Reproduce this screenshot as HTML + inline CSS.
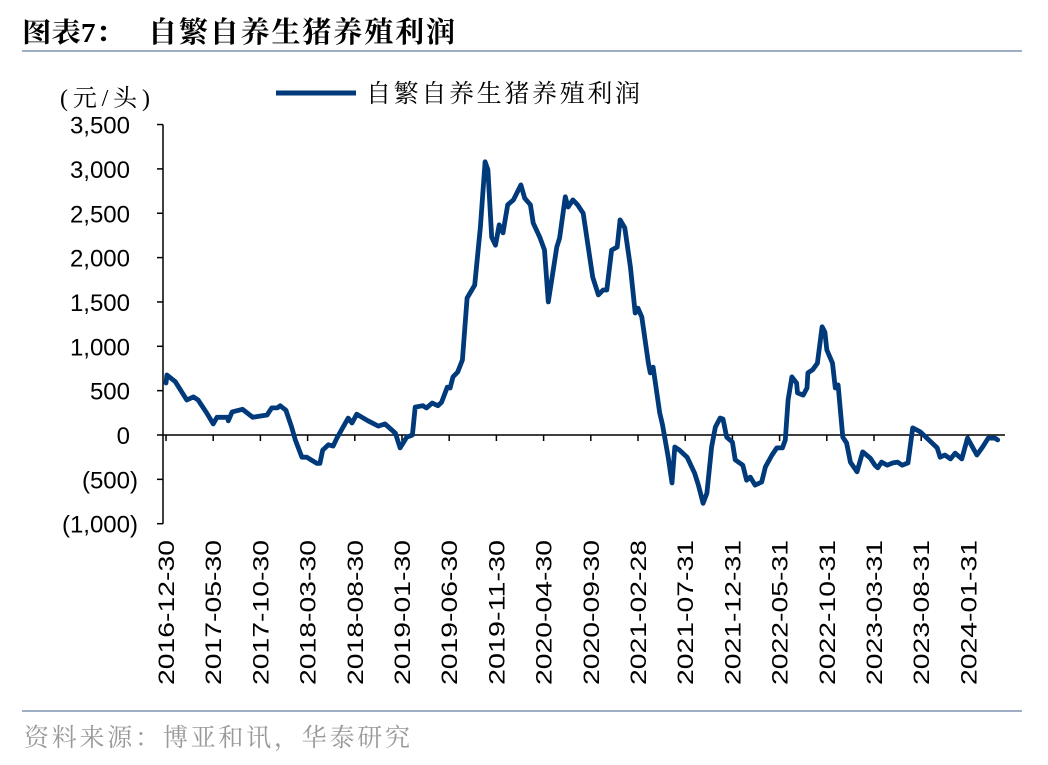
<!DOCTYPE html>
<html><head><meta charset="utf-8"><style>
body{margin:0;background:#fff;}
svg text{font-family:"Liberation Sans","Noto Sans CJK SC",sans-serif;}
svg text.cjk{font-family:"Liberation Serif","Noto Serif CJK SC",serif;}
</style></head><body>
<svg id="chart" width="1048" height="760" xmlns="http://www.w3.org/2000/svg">
<text class="cjk" x="22" y="42" font-size="27" font-weight="bold" fill="#000" textLength="103" lengthAdjust="spacingAndGlyphs">图表7：</text>
<text class="cjk" x="148" y="42" font-size="29" font-weight="bold" fill="#000" textLength="307" lengthAdjust="spacing">自繁自养生猪养殖利润</text>
<line x1="22" y1="51" x2="1022" y2="51" stroke="#7f93b3" stroke-width="1.5"/>
<text class="cjk" x="60" y="106" font-size="24" fill="#000" textLength="90" lengthAdjust="spacing">(元/头)</text>
<line x1="276" y1="93" x2="356" y2="93" stroke="#003a7a" stroke-width="5"/>
<text class="cjk" x="366" y="102" font-size="25" fill="#000" textLength="274" lengthAdjust="spacing">自繁自养生猪养殖利润</text>
<g id="axes"></g>
<g id="series"></g>
<line x1="22" y1="711" x2="1022" y2="711" stroke="#7f93b3" stroke-width="1.5"/>
<text class="cjk" x="24" y="746" font-size="25" fill="#999" textLength="386" lengthAdjust="spacing">资料来源：博亚和讯，华泰研究</text>
</svg>
<script>
const yTicks=[3500,3000,2500,2000,1500,1000,500,0,-500,-1000];
const xLabels=["2016-12-30","2017-05-30","2017-10-30","2018-03-30","2018-08-30","2019-01-30","2019-06-30","2019-11-30","2020-04-30","2020-09-30","2021-02-28","2021-07-31","2021-12-31","2022-05-31","2022-10-31","2023-03-31","2023-08-31","2024-01-31"];
const months=[0,0.1,1.0,2.2,2.9,3.4,4.3,5.0,5.4,6.5,6.6,7.0,8.1,9.2,10.7,11.2,11.8,12.1,12.7,13.3,13.7,14.4,14.9,16.0,16.3,16.6,17.2,17.7,18.1,19.3,19.7,20.2,21.4,22.5,23.2,24.3,24.8,25.5,26.1,26.4,27.2,27.6,28.2,28.8,29.2,29.8,30.1,30.4,30.9,31.4,31.9,32.7,33.3,33.8,34.1,34.5,34.9,35.3,35.7,36.2,36.8,37.6,38.0,38.6,38.9,39.6,40.1,40.5,41.4,41.7,42.3,42.6,43.1,43.6,44.2,45.2,45.8,46.3,46.7,47.2,47.8,48.1,48.6,49.2,49.7,50.0,50.4,51.1,51.3,51.6,52.3,52.6,53.2,53.6,53.9,54.4,55.2,56.0,56.4,56.9,57.3,57.8,58.2,58.7,59.0,59.4,60.0,60.3,61.1,61.5,61.9,62.4,63.1,63.5,64.2,64.7,65.3,65.6,65.9,66.3,66.8,66.9,67.5,67.9,68.0,68.5,69.0,69.5,69.8,70.0,70.6,70.9,71.2,71.7,72.1,72.5,73.2,73.8,74.6,75.1,75.4,75.8,76.4,77.0,77.5,78.0,78.6,79.1,79.9,80.6,81.7,82.0,82.5,83.1,83.6,84.3,84.9,85.9,86.5,87.1,87.8,88.1];
const profit=[586,676,600,395,430,395,250,125,200,200,160,260,290,200,225,305,305,330,280,90,-55,-250,-250,-320,-320,-170,-110,-125,-35,190,135,235,160,100,125,20,-145,-25,0,315,330,305,360,330,370,540,530,655,710,845,1545,1690,2345,3080,2990,2230,2140,2370,2280,2595,2650,2820,2670,2595,2390,2230,2085,1500,2120,2220,2685,2570,2650,2595,2500,1780,1580,1635,1635,2085,2120,2425,2335,1895,1375,1430,1330,810,700,765,250,115,-250,-540,-135,-170,-250,-430,-565,-770,-655,-135,90,190,180,-25,-80,-280,-340,-510,-475,-565,-530,-360,-225,-145,-145,-55,395,655,585,475,450,530,700,735,810,1220,1160,960,810,530,565,-25,-90,-305,-415,-190,-260,-340,-370,-305,-340,-315,-305,-340,-315,80,35,-35,-145,-250,-225,-270,-205,-270,-35,-225,-135,-35,-35,-55];
const NS="http://www.w3.org/2000/svg";
const X0=166,PXM=9.44,Y0=435,PXV=0.0887;
function xs(m){return X0+m*PXM;}
function ys(v){return Y0-v*PXV;}
const axes=document.getElementById('axes');
function mk(tag,attrs,parent){const e=document.createElementNS(NS,tag);for(const k in attrs)e.setAttribute(k,attrs[k]);parent.appendChild(e);return e;}
let yax=mk('line',{x1:163,y1:ys(3500),x2:163,y2:ys(-1000),stroke:'#000','stroke-width':1.5},axes);


yTicks.forEach(v=>{
  let t=mk('line',{x1:157,y1:ys(v),x2:163,y2:ys(v),stroke:'#000','stroke-width':1.5},axes);
  
  
  let lab=v<0?'('+Math.abs(v).toLocaleString('en-US')+')':v.toLocaleString('en-US');
  let tx=mk('text',{x:v<0?138:130,y:ys(v)+9,'font-size':24,'text-anchor':'end',fill:'#000'},axes);
  tx.textContent=lab;
  
  
});
let xax=mk('line',{x1:163,y1:ys(0),x2:1005,y2:ys(0),stroke:'#000','stroke-width':1.5},axes);


xLabels.forEach((l,i)=>{
  const x=xs(i*5);
  let t=mk('line',{x1:x,y1:ys(0),x2:x,y2:ys(0)+6,stroke:'#000','stroke-width':1.5},axes);
  
  
  let tx=mk('text',{x:0,y:0,'font-size':22,'text-anchor':'end',fill:'#000',textLength:145,lengthAdjust:'spacingAndGlyphs',transform:`translate(${x+8},540) rotate(-90)`},axes);
  tx.textContent=l;
  
  
});
const d=months.map((m,i)=>(i?'L':'M')+xs(m).toFixed(1)+','+ys(profit[i]).toFixed(1)).join(' ');
let p=mk('path',{d:d,fill:'none',stroke:'#003a7a','stroke-width':4.8,'stroke-linejoin':'round','stroke-linecap':'round'},document.getElementById('series'));


</script>
</body></html>
